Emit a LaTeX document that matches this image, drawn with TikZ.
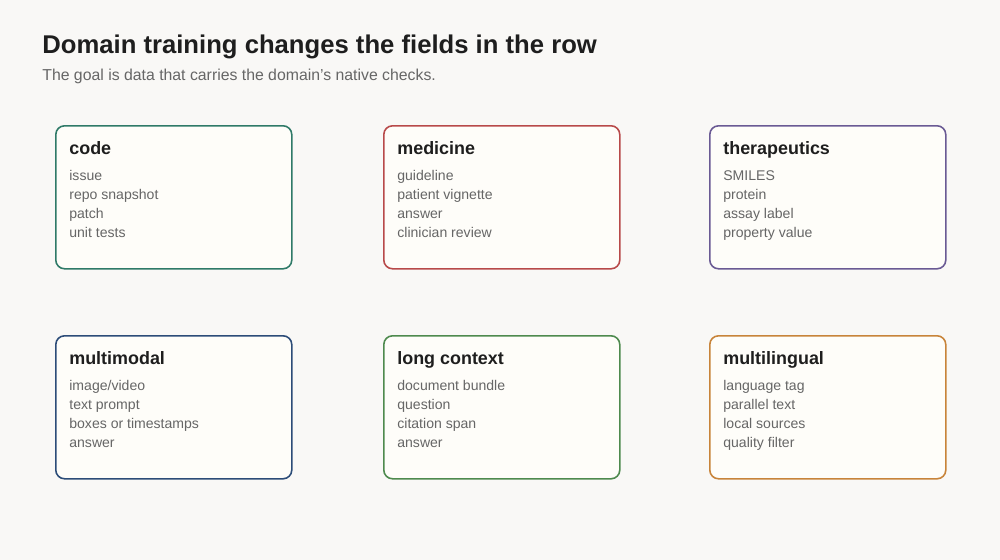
\documentclass[tikz,border=0pt]{standalone}
\usepackage{fontspec}
\setmainfont{Liberation Sans}
\definecolor{bg}{HTML}{F9F8F6}
\definecolor{cardfill}{HTML}{FEFDF9}
\definecolor{ink}{HTML}{1E1E1E}
\definecolor{muted}{HTML}{666666}
\definecolor{codec}{HTML}{2F7A68}
\definecolor{medc}{HTML}{B84A4A}
\definecolor{therc}{HTML}{6A5A94}
\definecolor{multic}{HTML}{2C4C78}
\definecolor{longc}{HTML}{4E8A4E}
\definecolor{lingc}{HTML}{C8843A}
\tikzset{
  card/.style={draw=#1, line width=0.9pt, fill=cardfill, rounded corners=5pt,
    minimum width=4.72cm, minimum height=2.86cm, anchor=north west},
  cardtitle/.style={anchor=base west, font=\fontsize{10.2}{12}\selectfont\bfseries, text=ink, inner sep=0pt},
  fields/.style={anchor=north west, font=\fontsize{8}{10.8}\selectfont, text=muted,
    align=left, inner sep=0pt},
}
\begin{document}
\begin{tikzpicture}
\fill[bg] (0,0) rectangle (20,-11.2);
\useasboundingbox (0,0) rectangle (20,-11.2);
\node[anchor=west, inner sep=0pt, text=ink, font=\fontsize{14.6}{17}\selectfont\bfseries] (title) at (0.84,-0.93) {Domain training changes the fields in the row};
\node[anchor=west, inner sep=0pt, text=muted, font=\fontsize{9}{11}\selectfont] (subtitle) at (0.84,-1.52) {The goal is data that carries the domain\char"0027 s native checks.};
% top row
\node[card=codec] (code) at (1.1,-2.5) {};
\node[cardtitle] (codet) at (1.38,-3.08) {code};
\node[fields] (codef) at (1.38,-3.4) {issue\\repo snapshot\\patch\\unit tests};
\node[card=medc] (med) at (7.66,-2.5) {};
\node[cardtitle] (medt) at (7.94,-3.08) {medicine};
\node[fields] (medf) at (7.94,-3.4) {guideline\\patient vignette\\answer\\clinician review};
\node[card=therc] (ther) at (14.18,-2.5) {};
\node[cardtitle] (thert) at (14.46,-3.08) {therapeutics};
\node[fields] (therf) at (14.46,-3.4) {SMILES\\protein\\assay label\\property value};
% bottom row
\node[card=multic] (multi) at (1.1,-6.7) {};
\node[cardtitle] (multit) at (1.38,-7.28) {multimodal};
\node[fields] (multif) at (1.38,-7.6) {image/video\\text prompt\\boxes or timestamps\\answer};
\node[card=longc] (long) at (7.66,-6.7) {};
\node[cardtitle] (longt) at (7.94,-7.28) {long context};
\node[fields] (longf) at (7.94,-7.6) {document bundle\\question\\citation span\\answer};
\node[card=lingc] (ling) at (14.18,-6.7) {};
\node[cardtitle] (lingt) at (14.46,-7.28) {multilingual};
\node[fields] (lingf) at (14.46,-7.6) {language tag\\parallel text\\local sources\\quality filter};
\end{tikzpicture}
\end{document}
